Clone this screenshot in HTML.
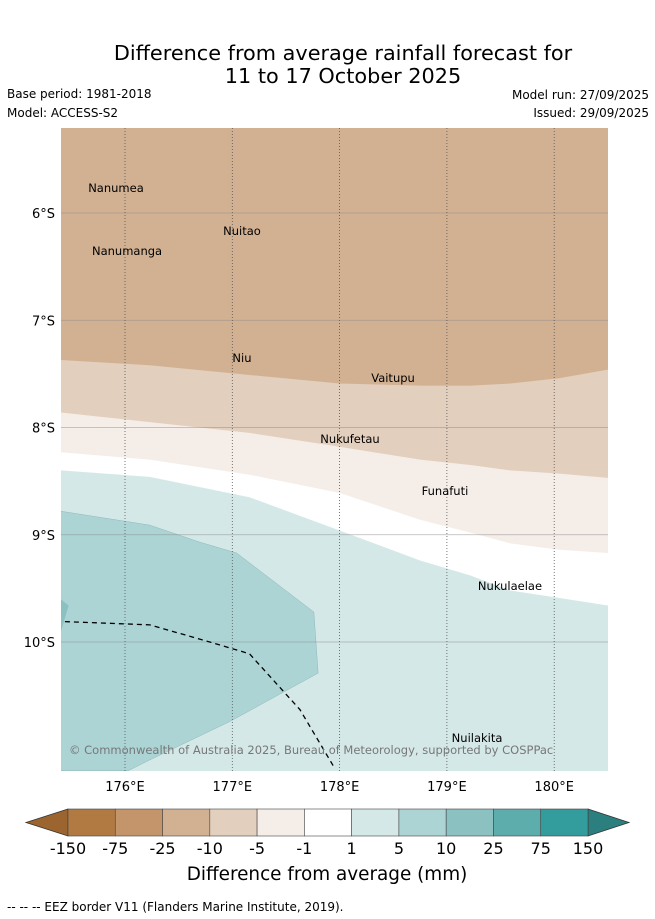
<!DOCTYPE html>
<html><head><meta charset="utf-8"><style>
body{margin:0;background:#fff;font-family:"DejaVu Sans","Liberation Sans",sans-serif;}
#wrap{position:relative;width:655px;height:919px;overflow:hidden;}
</style></head><body>
<div id="wrap">
<svg id="svg" width="655" height="919" xmlns="http://www.w3.org/2000/svg" font-family="DejaVu Sans, Liberation Sans, sans-serif">
<text x="343" y="60" text-anchor="middle" font-size="20.8">Difference from average rainfall forecast for</text>
<text x="343" y="83" text-anchor="middle" font-size="20.8">11 to 17 October 2025</text>
<text x="7" y="98" font-size="12">Base period: 1981-2018</text>
<text x="7" y="117" font-size="12">Model: ACCESS-S2</text>
<text x="649" y="99" font-size="12" text-anchor="end">Model run: 27/09/2025</text>
<text x="649" y="117" font-size="12" text-anchor="end">Issued: 29/09/2025</text>
<g id="map"></g>
<g id="cbar"></g>
<text x="327" y="880" text-anchor="middle" font-size="18.4">Difference from average (mm)</text>
<text x="7" y="911" font-size="12">-- -- -- EEZ border V11 (Flanders Marine Institute, 2019).</text>
</svg>
</div>
<script>
const NS="http://www.w3.org/2000/svg";
const lonTicks=[176,177,178,179,180];
const latTicks=[-6,-7,-8,-9,-10];
const bLons=[175.4,176.23,177.16,178.0,178.75,179.22,179.59,180.05,180.5];
const b1=[-7.37,-7.42,-7.51,-7.59,-7.61,-7.61,-7.59,-7.54,-7.46];
const b2=[-7.86,-7.95,-8.05,-8.18,-8.30,-8.35,-8.40,-8.43,-8.47];
const b3=[-8.23,-8.30,-8.44,-8.61,-8.86,-8.98,-9.08,-9.14,-9.17];
const b4=[-8.40,-8.46,-8.65,-8.96,-9.24,-9.38,-9.52,-9.59,-9.66];
const patchLon=[175.40,176.23,176.70,177.04,177.76,177.80,176.98,176.23,176.03,175.40];
const patchLat=[-8.78,-8.91,-9.07,-9.17,-9.72,-10.29,-10.74,-11.10,-11.20,-11.20];
const smallLon=[175.40,175.475,175.40];
const smallLat=[-9.60,-9.66,-9.91];
const eezLon=[175.44,176.23,176.79,177.16,177.63,177.95];
const eezLat=[-9.81,-9.84,-10.00,-10.11,-10.63,-11.17];
const islands=["Nanumea","Nuitao","Nanumanga","Niu","Vaitupu","Nukufetau","Funafuti","Nukulaelae","Nuilakita"];
const islLon=[175.916,177.090,176.019,177.090,178.498,178.097,178.982,179.588,179.281];
const islLat=[-5.730,-6.131,-6.317,-7.315,-7.501,-8.070,-8.555,-9.441,-10.858];
const levels=["-150","-75","-25","-10","-5","-1","1","5","10","25","75","150"];
const colors=["#9c6530","#b07a42","#c4956a","#d2b193","#e3cfbd","#f5ede8","#ffffff","#d5e8e8","#acd4d5","#8bc1c1","#5dadad","#339c9c","#2c7f7f"];
const X0=61,X1=608,Y0=128,Y1=771;
const x=lon=>125+(lon-176)*107.3;
const y=lat=>213+(-6-lat)*107.25;
function mk(tag,attrs,parent){const e=document.createElementNS(NS,tag);for(const k in attrs)e.setAttribute(k,attrs[k]);parent.appendChild(e);return e;}
const map=document.getElementById('map');
const clip=mk('clipPath',{id:'clip'},map);mk('rect',{x:X0,y:Y0,width:X1-X0,height:Y1-Y0},clip);
const g=mk('g',{'clip-path':'url(#clip)'},map);
let bg=mk('rect',{x:X0,y:Y0,width:X1-X0,height:Y1-Y0,fill:'#d5e8e8'},g);


function band(bound,fill,name){
  let pts=`${X0},${Y0} `;
  bound.forEach((la,i)=>{pts+=`${x(bLons[i])},${y(la)} `;});
  pts+=`${X1},${y(bound[bound.length-1])} ${X1},${Y0}`;
  const p=mk('polygon',{points:pts,fill:fill},g);
  
  
}
band(b4,'#ffffff','band-minus1-to-1');
band(b3,colors[5],'band-minus5-to-minus1');
band(b2,colors[4],'band-minus10-to-minus5');
band(b1,colors[3],'band-minus25-to-minus10');
let pp=patchLon.map((l,i)=>`${x(l)},${y(patchLat[i])}`).join(' ');
let pa=mk('polygon',{points:pp,fill:colors[8],stroke:'#8fb8b8','stroke-width':0.5},g);


let sp=smallLon.map((l,i)=>`${x(l)},${y(smallLat[i])}`).join(' ');
let sa=mk('polygon',{points:sp,fill:colors[9]},g);


latTicks.forEach(la=>{
  const l=mk('line',{x1:X0,x2:X1,y1:y(la),y2:y(la),stroke:'#888','stroke-width':0.8,'stroke-opacity':0.6},g);
  
  
  const t=mk('text',{x:55,y:y(la)+5,'text-anchor':'end','font-size':13},map);
  t.textContent=(-la)+'°S';
  
  
});
lonTicks.forEach(lo=>{
  const l=mk('line',{x1:x(lo),x2:x(lo),y1:Y0,y2:Y1,stroke:'#555','stroke-width':0.8,'stroke-dasharray':'1,2'},g);
  
  
  const t=mk('text',{x:x(lo),y:791,'text-anchor':'middle','font-size':13},map);
  t.textContent=lo+'°E';
  
  
});
let ep=eezLon.map((l,i)=>`${x(l)},${y(eezLat[i])}`).join(' ');
let ee=mk('polyline',{points:ep,fill:'none',stroke:'#000','stroke-width':1.3,'stroke-dasharray':'5,4'},g);


islands.forEach((n,i)=>{
  const t=mk('text',{x:x(islLon[i]),y:y(islLat[i])+8,'text-anchor':'middle','font-size':11.5},g);
  t.textContent=n;
  
  
});
let cp=mk('text',{x:69,y:754,'font-size':11.5,fill:'#777'},g);
cp.textContent='© Commonwealth of Australia 2025, Bureau of Meteorology, supported by COSPPac';


const cb=document.getElementById('cbar');
const cx0=68,cx1=588,cy0=809,cy1=836,n=levels.length-1,w=(cx1-cx0)/n;
let lt=mk('polygon',{points:`${cx0},${cy0} 26,${(cy0+cy1)/2} ${cx0},${cy1}`,fill:colors[0],stroke:'#333','stroke-width':0.8},cb);


let rt=mk('polygon',{points:`${cx1},${cy0} 629,${(cy0+cy1)/2} ${cx1},${cy1}`,fill:colors[12],stroke:'#333','stroke-width':0.8},cb);


for(let i=0;i<n;i++){
  const r=mk('rect',{x:cx0+i*w,y:cy0,width:w,height:cy1-cy0,fill:colors[i+1],stroke:'#444','stroke-width':0.6},cb);
  
  
}
levels.forEach((lv,i)=>{
  const t=mk('text',{x:cx0+i*w,y:854,'text-anchor':'middle','font-size':16},cb);
  t.textContent=lv;
  
  
});
</script>
</body></html>
